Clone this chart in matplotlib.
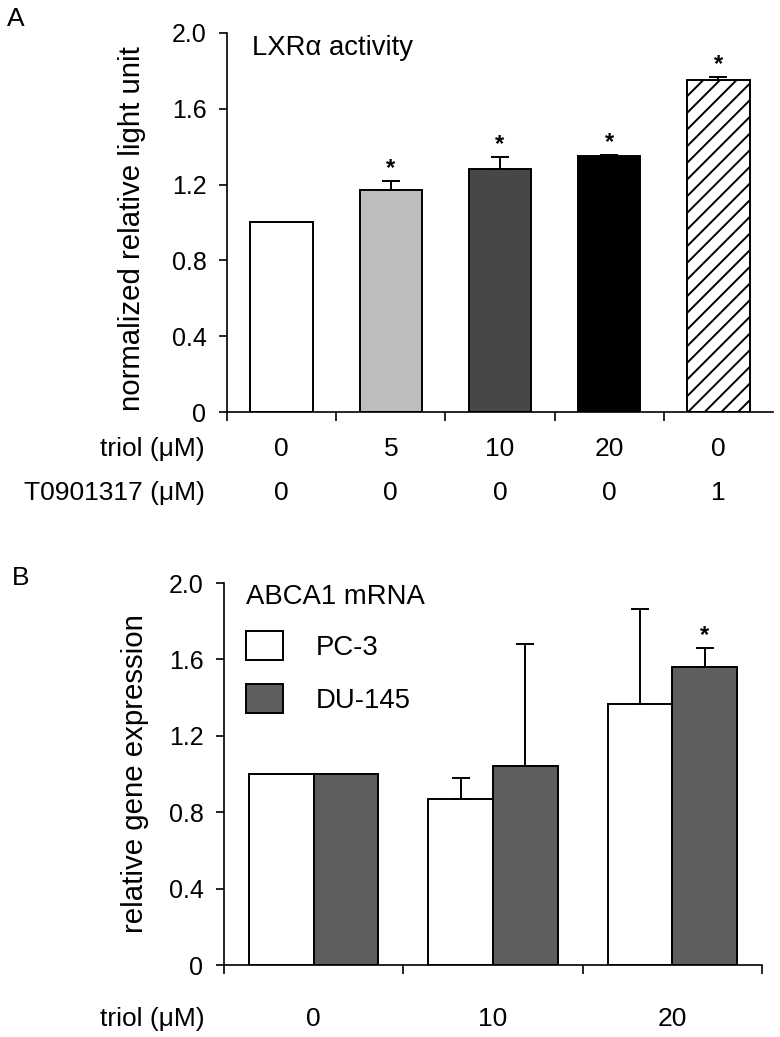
import numpy as np
import matplotlib
matplotlib.use("Agg")
import matplotlib.pyplot as plt
from matplotlib.transforms import blended_transform_factory

plt.rcParams['font.family'] = ['Liberation Sans', 'DejaVu Sans']
plt.rcParams['hatch.linewidth'] = 1.4

# Panel A: LXRa reporter activity
lxr_triol = ['0', '5', '10', '20', '0']
lxr_t0901317 = ['0', '0', '0', '0', '1']
lxr_mean = [1.0, 1.17, 1.28, 1.35, 1.75]
lxr_err = [0.0, 0.05, 0.065, 0.007, 0.02]
lxr_signif = [False, True, True, True, True]

# Panel B: ABCA1 mRNA
abca_triol = ['0', '10', '20']
pc3_mean = [1.0, 0.87, 1.365]
pc3_err = [0.0, 0.11, 0.50]
du145_mean = [1.0, 1.04, 1.56]
du145_err = [0.0, 0.64, 0.10]
du145_signif = [False, False, True]

# styles
lxr_colors = ['white', '#bdbdbd', '#474747', 'black', 'white']
lxr_hatches = ['', '', '', '', '//']
pc3_color = 'white'
du145_color = '#5e5e5e'
EDGE_LW = 1.4
TICK_FS = 18
LABEL_FS = 21.2
ROW_FS = 19
TITLE_FS = 19.8
LETTER_FS = 19


def style_axes(ax, ncat, xticks):
    ax.set_xlim(0, ncat)
    ax.set_ylim(0, 2.0)
    ax.spines['top'].set_visible(False)
    ax.spines['right'].set_visible(False)
    for side in ('left', 'bottom'):
        ax.spines[side].set_linewidth(1.2)
    yt = np.arange(0, 2.01, 0.4)
    ax.set_yticks(yt)
    ax.set_yticklabels(['0'] + [f'{v:.1f}' for v in yt[1:]])
    ax.tick_params(axis='y', direction='out', length=5.8, width=1.2, pad=9, labelsize=TICK_FS)
    ax.set_xticks(xticks)
    ax.set_xticklabels([])
    ax.tick_params(axis='x', direction='out', length=6.5, width=1.2)


def add_errors(ax, xs, means, errs):
    for x, m, e in zip(xs, means, errs):
        if e > 0:
            ax.errorbar(x, m, yerr=[[0], [e]], fmt='none', ecolor='black',
                        elinewidth=1.4, capsize=6.8, capthick=1.4, zorder=3)


def add_stars(ax, xs, means, errs, flags):
    for x, m, e, f in zip(xs, means, errs, flags):
        if f:
            ax.text(x, m + e + 0.03, '*', ha='center', va='baseline',
                    fontsize=17, fontweight='bold')


fig = plt.figure(figsize=(7.8, 10.37), dpi=100)
axA = fig.add_axes([0.2910, 0.6027, 0.7000, 0.3655])
axB = fig.add_axes([0.2872, 0.0694, 0.6897, 0.3684])

# ---- Panel A ----
xa = np.arange(len(lxr_mean)) + 0.5
axA.bar(xa, lxr_mean, width=0.57, color=lxr_colors, edgecolor='black',
        linewidth=EDGE_LW, hatch=lxr_hatches, zorder=2)
add_errors(axA, xa, lxr_mean, lxr_err)
add_stars(axA, xa, lxr_mean, lxr_err, lxr_signif)
style_axes(axA, len(lxr_mean), np.arange(len(lxr_mean)))
axA.text(0.046, 0.942, 'LXRα activity', transform=axA.transAxes,
         fontsize=TITLE_FS, va='baseline', ha='left')
axA.text(-0.174, 0.484, 'normalized relative light unit', transform=axA.transAxes,
         rotation=90, ha='center', va='center', fontsize=LABEL_FS)

transA = blended_transform_factory(axA.transData, axA.transAxes)
for x, t, c in zip(xa, lxr_triol, lxr_t0901317):
    axA.text(x, -0.0976, t, transform=transA, ha='center', va='center', fontsize=ROW_FS)
    axA.text(x, -0.2137, c, transform=transA, ha='center', va='center', fontsize=ROW_FS)
fig.text(205 / 780, 1 - 449 / 1037, 'triol (μM)', ha='right', va='center', fontsize=ROW_FS)
fig.text(205 / 780, 1 - 493 / 1037, 'T0901317 (μM)', ha='right', va='center', fontsize=ROW_FS)

# ---- Panel B ----
xb = np.arange(len(pc3_mean)) + 0.5
bw = 0.36
bars_pc3 = axB.bar(xb - bw / 2, pc3_mean, width=bw, color=pc3_color,
                   edgecolor='black', linewidth=EDGE_LW, zorder=2)
bars_du = axB.bar(xb + bw / 2, du145_mean, width=bw, color=du145_color,
                  edgecolor='black', linewidth=EDGE_LW, zorder=2)
add_errors(axB, xb - bw / 2, pc3_mean, pc3_err)
add_errors(axB, xb + bw / 2, du145_mean, du145_err)
add_stars(axB, xb + bw / 2, du145_mean, du145_err, du145_signif)
style_axes(axB, len(pc3_mean), np.arange(len(pc3_mean) + 1))
axB.text(0.040, 0.945, 'ABCA1 mRNA', transform=axB.transAxes,
         fontsize=TITLE_FS, va='baseline', ha='left')
axB.text(-0.165, 0.5, 'relative gene expression', transform=axB.transAxes,
         rotation=90, ha='center', va='center', fontsize=LABEL_FS)
axB.legend([bars_pc3, bars_du], ['PC-3', 'DU-145'], loc='upper left',
           bbox_to_anchor=(0.041, 0.874), frameon=False, fontsize=TITLE_FS,
           handlelength=1.33, handleheight=1.26, labelspacing=0.83,
           handletextpad=1.22, borderpad=0, borderaxespad=0)

transB = blended_transform_factory(axB.transData, axB.transAxes)
for x, t in zip(xb, abca_triol):
    axB.text(x, -0.141, t, transform=transB, ha='center', va='center', fontsize=ROW_FS)
fig.text(205 / 780, 1 - 1019 / 1037, 'triol (μM)', ha='right', va='center', fontsize=ROW_FS)

# panel letters
fig.text(15.5 / 780, 1 - 19.5 / 1037, 'A', ha='center', va='center', fontsize=LETTER_FS)
fig.text(21 / 780, 1 - 578 / 1037, 'B', ha='center', va='center', fontsize=LETTER_FS)

fig.savefig('out.png', dpi=100)
